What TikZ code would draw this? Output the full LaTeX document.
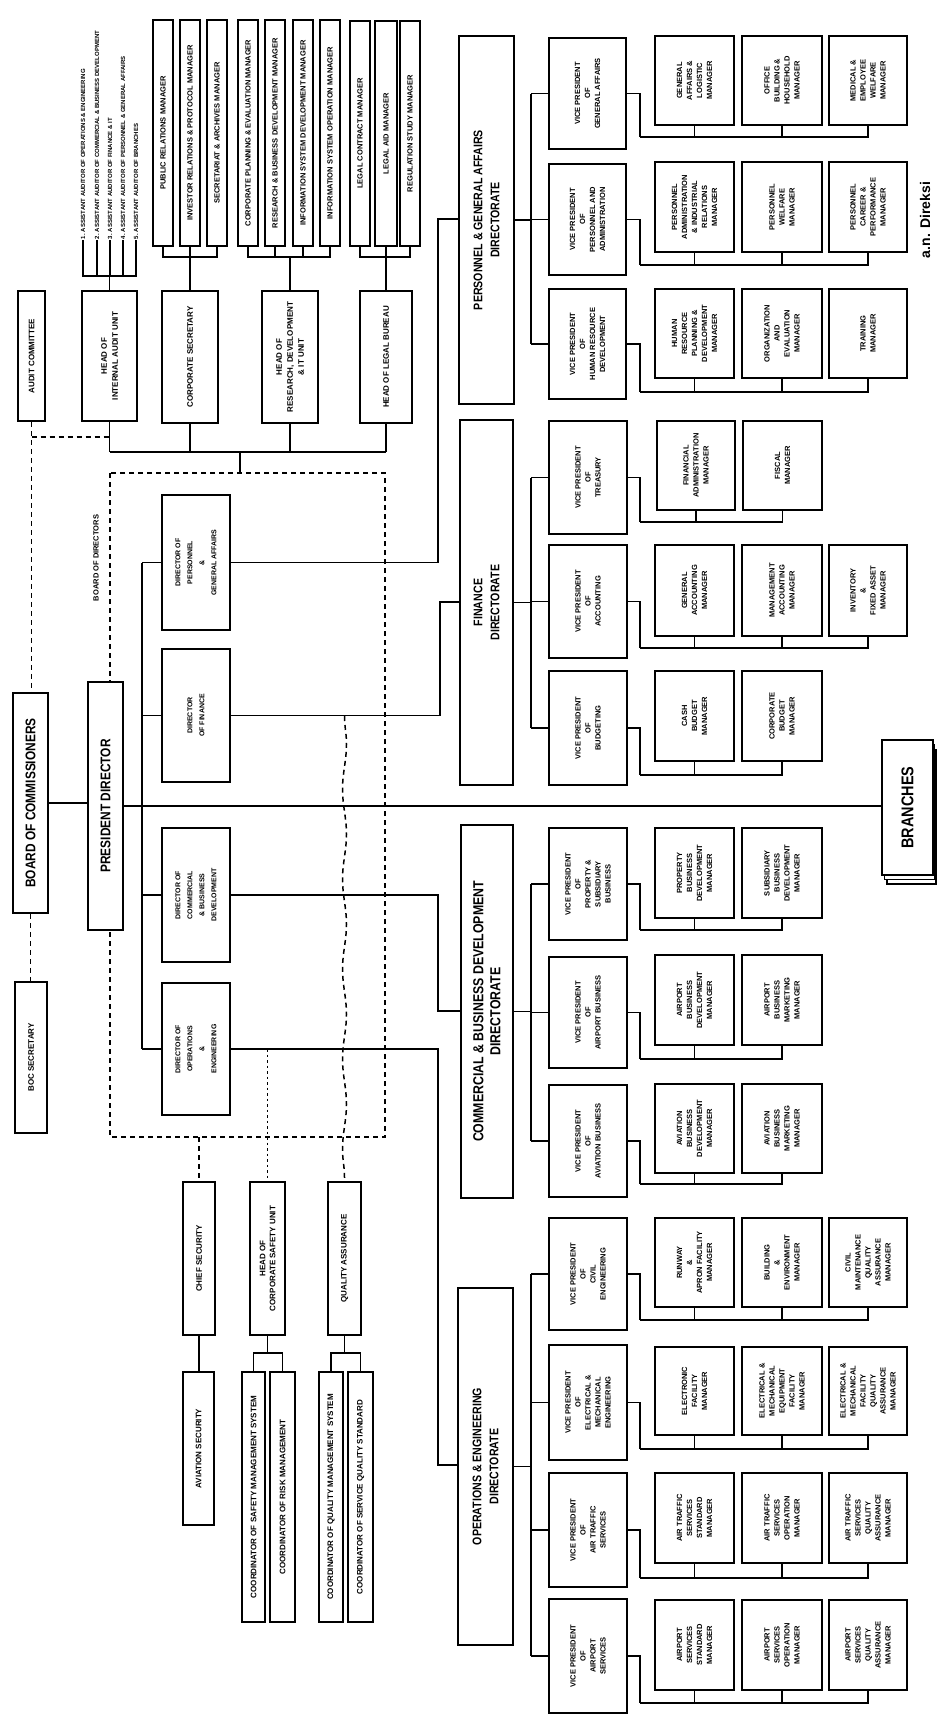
\documentclass[tikz,border=0pt]{standalone}
\usepackage{fontspec}
\usetikzlibrary{decorations.pathmorphing}
\setmainfont{Liberation Sans}
\newfontfamily\condf{Liberation Sans}[FakeStretch=0.85]
\newcommand\bx[7][]{\node[box,#1,minimum width={(#6)-(#4)},minimum height={(#5)-(#3)}] (#2) at ({((#3)+(#5))/2},{((#4)+(#6))/2}) {#7};}
\newcommand\mfork[3]{\draw[ln] (#1.south) -- (#1.south -| 640,0) -- (640,#2);
  \foreach \nn in {#3}{\draw[ln] (640,#2) -| (\nn.west);}}
\newcommand\upfork[3]{\draw[ln] (#1.east) -- (#1.east |- 0,#2);
  \foreach \nn in {#3}{\draw[ln] (#1.east |- 0,#2) -| (\nn.west);}}
\newcommand\dnfork[3]{\draw[ln] (#1.west) -- (#1.west |- 0,#2);
  \foreach \nn in {#3}{\draw[ln] (#1.west |- 0,#2) -| (\nn.east);}}
\tikzset{
  box/.style={draw,line width=1.7pt,fill=white,rotate=90,align=center,inner sep=1pt,
    font=\bfseries\fontsize{7.5}{10}\selectfont},
  big/.style={font=\condf\bfseries\fontsize{14}{16}\selectfont},
  stf/.style={font=\bfseries\fontsize{8}{11}\selectfont},
  chd/.style={font=\bfseries\fontsize{7.5}{8}\selectfont},
  dr/.style={font=\bfseries\fontsize{7}{12}\selectfont},
  dirx/.style={font=\condf\bfseries\fontsize{12.5}{17}\selectfont},
  sx/.style={font=\bfseries\fontsize{8}{10}\selectfont},
  brx/.style={font=\condf\bfseries\fontsize{17}{18}\selectfont},
  itm/.style={rotate=90,anchor=west,inner sep=0.5pt,font=\bfseries\fontsize{6}{7}\selectfont},
  lblt/.style={rotate=90,inner sep=0.5pt,font=\bfseries\fontsize{7.5}{8}\selectfont},
  ln/.style={line width=1.4pt},
  dsh/.style={line width=1.5pt,dash pattern=on 5pt off 4pt},
  dotl/.style={line width=1.5pt,dash pattern=on 2.5pt off 3pt},
  wavy/.style={decorate,decoration={snake,amplitude=2pt,segment length=90pt}},
}
\begin{document}
\begin{tikzpicture}[x=1pt,y=-1pt]
\fill[white] (0,0) rectangle (938,1729);
\useasboundingbox (0,0) rectangle (938,1729);

% board of directors frame
\draw[dsh] (110,473) rectangle (385,1137);
\node[lblt] (bodl) at (96,558) {BOARD OF DIRECTORS};

% board of commissioners and president
\bx[big]{boc}{13}{693}{48}{913}{BOARD OF COMMISSIONERS}
\bx[stf]{ac}{18}{291}{45}{421}{AUDIT COMMITTEE}
\bx[stf]{sec}{15}{982}{47}{1133}{BOC SECRETARY}
\bx[big]{pd}{88}{682}{123}{930}{PRESIDENT DIRECTOR}

% staff heads
\bx[stf]{ia}{82}{291}{137}{421}{HEAD OF\\INTERNAL AUDIT UNIT}
\bx[stf]{cs}{162}{291}{218}{423}{CORPORATE SECRETARY}
\bx[stf]{rd}{262}{291}{318}{423}{HEAD OF\\RESEARCH, DEVELOPMENT\\\& IT UNIT}
\bx[stf]{lg}{360}{291}{412}{423}{HEAD OF LEGAL BUREAU}

% internal audit items
\node[itm] (ia1) at (83,240) {1. ASSISTANT AUDITOR OF OPERATIONS \& ENGINEERING};
\node[itm] (ia2) at (97,240) {2. ASSISTANT AUDITOR OF COMMERCIAL \& BUSINESS DEVELOPMENT};
\node[itm] (ia3) at (110,240) {3. ASSISTANT AUDITOR OF FINANCE \& IT};
\node[itm] (ia4) at (123,240) {4. ASSISTANT AUDITOR OF PERSONNEL \& GENERAL AFFAIRS};
\node[itm] (ia5) at (136,240) {5. ASSISTANT AUDITOR OF BRANCHES};
\upfork{ia}{276}{ia1,ia2,ia3,ia4,ia5}

% corporate secretary children
\bx[chd]{cs1}{153}{20}{173}{246}{PUBLIC RELATIONS MANAGER}
\bx[chd]{cs2}{180}{20}{200}{246}{INVESTOR RELATIONS \& PROTOCOL MANAGER}
\bx[chd]{cs3}{207}{20}{227}{246}{SECRETARIAT \& ARCHIVES MANAGER}
\upfork{cs}{257}{cs1,cs2,cs3}

% research children
\bx[chd]{rd1}{238}{20}{258}{246}{CORPORATE PLANNING \& EVALUATION MANAGER}
\bx[chd]{rd2}{265}{20}{285}{246}{RESEARCH \& BUSINESS DEVELOPMENT MANAGER}
\bx[chd]{rd3}{293}{20}{313}{246}{INFORMATION SYSTEM DEVELOPMENT MANAGER}
\bx[chd]{rd4}{320}{20}{340}{246}{INFORMATION SYSTEM OPERATION MANAGER}
\upfork{rd}{257}{rd1,rd2,rd3,rd4}

% legal children
\bx[chd]{lg1}{350}{21}{370}{246}{LEGAL CONTRACT MANAGER}
\bx[chd]{lg2}{375}{21}{397}{246}{LEGAL AID MANAGER}
\bx[chd]{lg3}{400}{21}{420}{246}{REGULATION STUDY MANAGER}
\upfork{lg}{257}{lg1,lg2,lg3}

% staff bus
\foreach \nn in {ia,cs,rd,lg}{\draw[ln] (\nn.west) -- (\nn.west |- 0,452);}
\draw[ln] (ia.west |- 0,452) -- (lg.west |- 0,452);
\coordinate (rtop) at (240,473);
\draw[ln] (240,452) -- (rtop);

% dashed links of the board
\draw[dsh] (ac.west) -- (ac.west |- boc.east);
\draw[dsh] (ac.west |- 0,437) -- (ia.west |- 0,437);
\draw[dsh] (boc.west) -- (boc.west |- sec.east);
\draw[ln] (boc.south) -- (boc.south -| pd.north);

% directors
\bx[dr]{d1}{162}{495}{230}{630}{DIRECTOR OF\\PERSONNEL\\\&\\GENERAL AFFAIRS}
\bx[dr]{d2}{162}{649}{230}{782}{DIRECTOR\\OF FINANCE}
\bx[dr]{d3}{162}{828}{230}{962}{DIRECTOR OF\\COMMERCIAL\\\& BUSINESS\\DEVELOPMENT}
\bx[dr]{d4}{162}{983}{230}{1115}{DIRECTOR OF\\OPERATIONS\\\&\\ENGINEERING}
\draw[ln] (d1.north -| 142,0) -- (d4.north -| 142,0);
\foreach \nn in {d1,d2,d3,d4}{\draw[ln] (\nn.north -| 142,0) -- (\nn.north);}

% directorates
\bx[dirx]{pga}{459}{36}{514}{404}{PERSONNEL \& GENERAL AFFAIRS\\DIRECTORATE}
\bx[dirx]{fin}{460}{420}{513}{785}{FINANCE\\DIRECTORATE}
\bx[dirx,font=\condf\bfseries\fontsize{14.5}{17}\selectfont]{com}{461}{825}{513}{1198}{COMMERCIAL \& BUSINESS DEVELOPMENT\\DIRECTORATE}
\bx[dirx]{ops}{458}{1288}{513}{1645}{OPERATIONS \& ENGINEERING\\DIRECTORATE}

\draw[ln] (d1.south) -| (438,219) -- (pga.north |- 0,219);
\draw[ln] (d2.south) -| (440,602) -- (fin.north |- 0,602);
\draw[ln] (d3.south) -| (438,1011) -- (com.north |- 0,1011);
\draw[ln] (d4.south) -| (438,1465) -- (ops.north |- 0,1465);

% ---------------- personnel
\bx{p1}{549}{38}{626}{149}{VICE PRESIDENT\\OF\\GENERAL AFFAIRS}
\bx{p2}{549}{164}{626}{275}{VICE PRESIDENT\\OF\\PERSONNEL AND\\ADMINISTRATION}
\bx{p3}{549}{289}{626}{399}{VICE PRESIDENT\\OF\\HUMAN RESOURCE\\DEVELOPMENT}
\draw[ln] (pga.south) -- (pga.south -| 531,0);
\draw[ln] (p1.north -| 531,0) -- (p3.north -| 531,0);
\foreach \nn in {p1,p2,p3}{\draw[ln] (\nn.north -| 531,0) -- (\nn.north);}

\bx{p1a}{655}{36}{734}{125}{GENERAL\\AFFAIRS \&\\LOGISTIC\\MANAGER}
\bx{p1b}{742}{36}{822}{125}{OFFICE\\BUILDING \&\\HOUSEHOLD\\MANAGER}
\bx{p1c}{829}{36}{907}{125}{MEDICAL \&\\EMPLOYEE\\WELFARE\\MANAGER}
\mfork{p1}{137}{p1a,p1b,p1c}
\bx{p2a}{655}{162}{734}{252}{PERSONNEL\\ADMINISTRATION\\\& INDUSTRIAL\\RELATIONS\\MANAGER}
\bx{p2b}{742}{162}{822}{252}{PERSONNEL\\WELFARE\\MANAGER}
\bx{p2c}{829}{162}{907}{252}{PERSONNEL\\CAREER \&\\PERFORMANCE\\MANAGER}
\mfork{p2}{265}{p2a,p2b,p2c}
\bx{p3a}{655}{289}{734}{378}{HUMAN\\RESOURCE\\PLANNING \&\\DEVELOPMENT\\MANAGER}
\bx{p3b}{742}{289}{822}{378}{ORGANIZATION\\AND\\EVALUATION\\MANAGER}
\bx{p3c}{829}{289}{907}{378}{TRAINING\\MANAGER}
\mfork{p3}{392}{p3a,p3b,p3c}

% ---------------- finance
\bx{f1}{549}{421}{627}{534}{VICE PRESIDENT\\OF\\TREASURY}
\bx{f2}{549}{545}{627}{658}{VICE PRESIDENT\\OF\\ACCOUNTING}
\bx{f3}{549}{671}{627}{785}{VICE PRESIDENT\\OF\\BUDGETING}
\draw[ln] (fin.south) -- (fin.south -| 531,0);
\draw[ln] (f1.north -| 531,0) -- (f3.north -| 531,0);
\foreach \nn in {f1,f2,f3}{\draw[ln] (\nn.north -| 531,0) -- (\nn.north);}

\bx{f1a}{657}{421}{735}{510}{FINANCIAL\\ADMINISTRATION\\MANAGER}
\bx{f1b}{743}{421}{822}{510}{FISCAL\\MANAGER}
\mfork{f1}{522}{f1a,f1b}
\bx{f2a}{655}{545}{734}{636}{GENERAL\\ACCOUNTING\\MANAGER}
\bx{f2b}{742}{545}{822}{636}{MANAGEMENT\\ACCOUNTING\\MANAGER}
\bx{f2c}{829}{545}{907}{636}{INVENTORY\\\&\\FIXED ASSET\\MANAGER}
\mfork{f2}{648}{f2a,f2b,f2c}
\bx{f3a}{655}{671}{734}{761}{CASH\\BUDGET\\MANAGER}
\bx{f3b}{742}{671}{822}{761}{CORPORATE\\BUDGET\\MANAGER}
\mfork{f3}{775}{f3a,f3b}

% ---------------- branches
\draw[line width=1.5pt,fill=white] (887,750) rectangle (936,884);
\draw[line width=1.5pt,fill=white] (884.5,745) rectangle (934.5,879.5);
\bx[brx]{br}{882}{740}{933}{875}{BRANCHES}
\draw[ln] (pd.south) -- (pd.south -| br.north);
\node[rotate=90,inner sep=0pt,font=\bfseries\fontsize{14}{16}\selectfont] (an) at (925,220) {a.n. Direksi};

% ---------------- commercial
\bx{c1}{549}{828}{627}{940}{VICE PRESIDENT\\OF\\PROPERTY \&\\SUBSIDIARY\\BUSINESS}
\bx{c2}{549}{957}{627}{1068}{VICE PRESIDENT\\OF\\AIRPORT BUSINESS}
\bx{c3}{549}{1085}{627}{1197}{VICE PRESIDENT\\OF\\AVIATION BUSINESS}
\draw[ln] (com.south) -- (com.south -| 531,0);
\draw[ln] (c1.north -| 531,0) -- (c3.north -| 531,0);
\foreach \nn in {c1,c2,c3}{\draw[ln] (\nn.north -| 531,0) -- (\nn.north);}

\bx{c1a}{655}{828}{734}{918}{PROPERTY\\BUSINESS\\DEVELOPMENT\\MANAGER}
\bx{c1b}{742}{828}{822}{918}{SUBSIDIARY\\BUSINESS\\DEVELOPMENT\\MANAGER}
\mfork{c1}{930}{c1a,c1b}
\bx{c2a}{655}{955}{734}{1045}{AIRPORT\\BUSINESS\\DEVELOPMENT\\MANAGER}
\bx{c2b}{742}{955}{822}{1045}{AIRPORT\\BUSINESS\\MARKETING\\MANAGER}
\mfork{c2}{1059}{c2a,c2b}
\bx{c3a}{655}{1084}{734}{1173}{AVIATION\\BUSINESS\\DEVELOPMENT\\MANAGER}
\bx{c3b}{742}{1084}{822}{1173}{AVIATION\\BUSINESS\\MARKETING\\MANAGER}
\mfork{c3}{1184}{c3a,c3b}

% ---------------- operations
\bx{o1}{549}{1218}{627}{1330}{VICE PRESIDENT\\OF\\CIVIL\\ENGINEERING}
\bx{o2}{549}{1345}{627}{1460}{VICE PRESIDENT\\OF\\ELECTRICAL \&\\MECHANICAL\\ENGINEERING}
\bx{o3}{549}{1473}{627}{1587}{VICE PRESIDENT\\OF\\AIR TRAFFIC\\SERVICES}
\bx{o4}{549}{1599}{627}{1713}{VICE PRESIDENT\\OF\\AIRPORT\\SERVICES}
\draw[ln] (ops.south) -- (ops.south -| 531,0);
\draw[ln] (o1.north -| 531,0) -- (o4.north -| 531,0);
\foreach \nn in {o1,o2,o3,o4}{\draw[ln] (\nn.north -| 531,0) -- (\nn.north);}

\bx{o1a}{655}{1218}{734}{1307}{RUNWAY\\\&\\APRON FACILITY\\MANAGER}
\bx{o1b}{742}{1218}{822}{1307}{BUILDING\\\&\\ENVIRONMENT\\MANAGER}
\bx{o1c}{829}{1218}{907}{1307}{CIVIL\\MAINTENANCE\\QUALITY\\ASSURANCE\\MANAGER}
\mfork{o1}{1320}{o1a,o1b,o1c}
\bx{o2a}{655}{1347}{734}{1435}{ELECTRONIC\\FACILITY\\MANAGER}
\bx{o2b}{742}{1347}{822}{1435}{ELECTRICAL \&\\MECHANICAL\\EQUIPMENT\\FACILITY\\MANAGER}
\bx{o2c}{829}{1347}{907}{1435}{ELECTRICAL \&\\MECHANICAL\\FACILITY\\QUALITY\\ASSURANCE\\MANAGER}
\mfork{o2}{1449}{o2a,o2b,o2c}
\bx{o3a}{655}{1473}{734}{1563}{AIR TRAFFIC\\SERVICES\\STANDARD\\MANAGER}
\bx{o3b}{742}{1473}{822}{1563}{AIR TRAFFIC\\SERVICES\\OPERATION\\MANAGER}
\bx{o3c}{829}{1473}{907}{1563}{AIR TRAFFIC\\SERVICES\\QUALITY\\ASSURANCE\\MANAGER}
\mfork{o3}{1578}{o3a,o3b,o3c}
\bx{o4a}{655}{1600}{734}{1690}{AIRPORT\\SERVICES\\STANDARD\\MANAGER}
\bx{o4b}{742}{1600}{822}{1690}{AIRPORT\\SERVICES\\OPERATION\\MANAGER}
\bx{o4c}{829}{1600}{907}{1690}{AIRPORT\\SERVICES\\QUALITY\\ASSURANCE\\MANAGER}
\mfork{o4}{1703}{o4a,o4b,o4c}

% ---------------- units below the board of directors
\bx[sx]{s1}{183}{1182}{215}{1335}{CHIEF SECURITY}
\bx[sx]{s2}{250}{1182}{285}{1335}{HEAD OF\\CORPORATE SAFETY UNIT}
\bx[sx]{s3}{328}{1182}{361}{1335}{QUALITY ASSURANCE}
\bx[sx]{s1a}{183}{1372}{214}{1525}{AVIATION SECURITY}
\bx[sx]{s2a}{242}{1372}{265}{1622}{COORDINATOR OF SAFETY MANAGEMENT SYSTEM}
\bx[sx]{s2b}{270}{1372}{295}{1622}{COORDINATOR OF RISK MANAGEMENT}
\bx[sx]{s3a}{319}{1372}{343}{1622}{COORDINATOR OF QUALITY MANAGEMENT SYSTEM}
\bx[sx]{s3b}{348}{1372}{373}{1622}{COORDINATOR OF SERVICE QUALITY STANDARD}
\draw[ln] (s1.west) -- (s1.west |- s1a.east);
\dnfork{s2}{1353}{s2a,s2b}
\dnfork{s3}{1353}{s3a,s3b}
\coordinate (r1) at (199,1137);
\draw[dsh] (r1) -- (s1.east);
\coordinate (j2) at (267.5,1049);
\draw[dotl] (j2) -- (s2.east);
\coordinate (j3) at (344.5,716);
\draw[dsh,wavy] (j3) -- (s3.east);
\end{tikzpicture}
\end{document}
